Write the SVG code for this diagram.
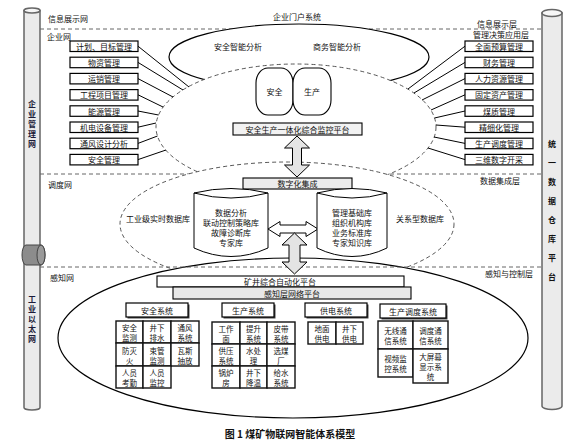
<svg xmlns="http://www.w3.org/2000/svg" width="575" height="442" viewBox="0 0 575 442">
<defs>
<style>
.t{font-family:"Noto Sans CJK SC","Noto Sans",sans-serif;font-size:8px;fill:#111;text-anchor:middle;dominant-baseline:central}
.c{font-size:7.5px}
.tl{font-family:"Noto Sans CJK SC","Noto Sans",sans-serif;font-size:8px;fill:#111;text-anchor:start;dominant-baseline:central}
.box{fill:#fff;stroke:#000;stroke-width:1.2}
.sh{fill:#444}
.dash{fill:none;stroke:#555;stroke-width:0.9;stroke-dasharray:4 3}
.dell{fill:#fff;stroke:#444;stroke-width:0.9;stroke-dasharray:4 3}
.cell{fill:#fff;stroke:#111;stroke-width:1.4}
.ln{stroke:#000;stroke-width:1;fill:none}
.pipe{fill:#ebebeb;stroke:#666;stroke-width:1.5}
.arr{stroke:#000;stroke-width:1}
</style>
</defs>
<rect width="575" height="442" fill="#fff"/>

<g id="layer-lines">
<line class="dash" x1="40" y1="29" x2="542" y2="29"/>
<line class="dash" x1="40" y1="174" x2="542" y2="174"/>
</g>

<g id="portal">
<ellipse cx="299" cy="57" rx="130" ry="33" fill="#fff" stroke="#000" stroke-width="1.2"/>
<text class="t" x="297" y="16">企业门户系统</text>
<text class="t" x="238" y="46">安全智能分析</text>
<text class="t" x="337" y="46">商务智能分析</text>
</g>

<g id="enterprise-ellipse">
<ellipse class="dell" cx="296" cy="127" rx="140" ry="63"/>
</g>

<g id="dispatch-ellipse">
<ellipse class="dell" cx="287" cy="224" rx="167" ry="62"/>
<text class="t" x="158" y="218">工业级实时数据库</text>
<text class="t" x="420" y="218">关系型数据库</text>
</g>

<g id="sensing-ellipse">
<ellipse cx="293" cy="338" rx="235" ry="80" fill="#fff" stroke="#000" stroke-width="1.2"/>
</g>

<g id="layer-line-3">
<line class="dash" x1="40" y1="267" x2="542" y2="267"/>
</g>

<g id="left-pipe">
<path class="pipe" d="M24,10.5 L24,407.5 A8,2.5 0 0 0 40,407.5 L40,10.5 Z"/>
<ellipse cx="32" cy="10.5" rx="8" ry="2.5" fill="#f6f6f6" stroke="#666" stroke-width="1.5"/>
<path d="M26,245 L41,245 A4,10 0 0 1 41,265 L26,265 A4,10 0 0 1 26,245 Z" fill="#8c8c8c" stroke="#444" stroke-width="1"/>
<ellipse cx="41" cy="255" rx="4" ry="10" fill="#9a9a9a" stroke="#444" stroke-width="1"/>
<text class="t" style="font-weight:bold;fill:#1c1c3a"><tspan x="32" y="103">企</tspan><tspan x="32" y="113">业</tspan><tspan x="32" y="123">管</tspan><tspan x="32" y="133">理</tspan><tspan x="32" y="143">网</tspan></text>
<text class="t" style="font-weight:bold;fill:#1c1c3a"><tspan x="32" y="298">工</tspan><tspan x="32" y="308">业</tspan><tspan x="32" y="318">以</tspan><tspan x="32" y="328">太</tspan><tspan x="32" y="338">网</tspan></text>
</g>
<g id="right-pipe">
<path class="pipe" d="M542,13 L542,406 A10,3.5 0 0 0 562,406 L562,13 Z"/>
<ellipse cx="552" cy="13" rx="10" ry="3.5" fill="#f6f6f6" stroke="#666" stroke-width="1.5"/>
<text class="t" style="font-weight:bold"><tspan x="552" y="143">统</tspan><tspan x="552" y="162">一</tspan><tspan x="552" y="181">数</tspan><tspan x="552" y="200">据</tspan><tspan x="552" y="219">仓</tspan><tspan x="552" y="238">库</tspan><tspan x="552" y="257">平</tspan><tspan x="552" y="276">台</tspan></text>
</g>

<g id="layer-labels">
<text class="tl" x="48" y="18">信息展示网</text>
<text class="tl" x="47" y="36">企业网</text>
<text class="tl" x="48" y="184">调度网</text>
<text class="tl" x="50" y="277">感知网</text>
<text class="t" x="497" y="23">信息展示层</text>
<text class="t" x="501" y="34">管理决策应用层</text>
<text class="t" x="500" y="180">数据集成层</text>
<text class="t" x="509" y="273">感知与控制层</text>
</g>

<g id="connectors">
<line class="ln" x1="138" y1="46.2" x2="189" y2="87"/>
<line class="ln" x1="138" y1="62.4" x2="183" y2="90"/>
<line class="ln" x1="138" y1="78.6" x2="173" y2="97"/>
<line class="ln" x1="138" y1="94.8" x2="163" y2="107"/>
<line class="ln" x1="138" y1="111" x2="158.5" y2="115"/>
<line class="ln" x1="138" y1="127.2" x2="156" y2="123"/>
<line class="ln" x1="138" y1="143.4" x2="157.5" y2="136"/>
<line class="ln" x1="138" y1="159.6" x2="166" y2="150"/>
<line class="ln" x1="465" y1="46.2" x2="408" y2="89"/>
<line class="ln" x1="465" y1="62.4" x2="414" y2="93"/>
<line class="ln" x1="465" y1="78.6" x2="422" y2="100"/>
<line class="ln" x1="465" y1="94.8" x2="431" y2="110"/>
<line class="ln" x1="465" y1="111" x2="434.5" y2="118"/>
<line class="ln" x1="465" y1="127.2" x2="436" y2="125"/>
<line class="ln" x1="465" y1="143.4" x2="434" y2="137"/>
<line class="ln" x1="465" y1="159.6" x2="428" y2="148"/>
<polygon class="arr" fill="#e4e4e4" points="297,136 309.5,148 301.5,148 301.5,165 309.5,165 297,177 284.5,165 292.5,165 292.5,148 284.5,148"/>
<polygon class="arr" fill="#fff" points="268,229 280,221.5 280,225 306,225 306,221.5 318,229 306,236.5 306,233 280,233 280,236.5"/>
<polygon class="arr" fill="#e4e4e4" points="294.5,233 307,245 300,245 300,262 307,262 294.5,274 282,262 289,262 289,245 282,245"/>
</g>

<g id="left-boxes">
<g id="n-jihua"><rect class="box" x="70" y="41" width="68" height="10.5"/><text class="t" x="104" y="46.2">计划、目标管理</text></g>
<g id="n-wuzi"><rect class="box" x="70" y="57.2" width="68" height="10.5"/><text class="t" x="104" y="62.4">物资管理</text></g>
<g id="n-yunxiao"><rect class="box" x="70" y="73.4" width="68" height="10.5"/><text class="t" x="104" y="78.6">运销管理</text></g>
<g id="n-gongcheng"><rect class="box" x="70" y="89.6" width="68" height="10.5"/><text class="t" x="104" y="94.8">工程项目管理</text></g>
<g id="n-nengyuan"><rect class="box" x="70" y="105.8" width="68" height="10.5"/><text class="t" x="104" y="111">能源管理</text></g>
<g id="n-jidian"><rect class="box" x="70" y="122" width="68" height="10.5"/><text class="t" x="104" y="127.2">机电设备管理</text></g>
<g id="n-tongfeng"><rect class="box" x="70" y="138.2" width="68" height="10.5"/><text class="t" x="104" y="143.4">通风设计分析</text></g>
<g id="n-anquan"><rect class="box" x="70" y="154.4" width="68" height="10.5"/><text class="t" x="104" y="159.6">安全管理</text></g>
</g>

<g id="right-boxes">
<g id="n-yusuan"><rect class="box" x="465" y="41" width="68" height="10.5"/><text class="t" x="499" y="46.2">全面预算管理</text></g>
<g id="n-caiwu"><rect class="box" x="465" y="57.2" width="68" height="10.5"/><text class="t" x="499" y="62.4">财务管理</text></g>
<g id="n-renli"><rect class="box" x="465" y="73.4" width="68" height="10.5"/><text class="t" x="499" y="78.6">人力资源管理</text></g>
<g id="n-guding"><rect class="box" x="465" y="89.6" width="68" height="10.5"/><text class="t" x="499" y="94.8">固定资产管理</text></g>
<g id="n-meizhi"><rect class="box" x="465" y="105.8" width="68" height="10.5"/><text class="t" x="499" y="111">煤质管理</text></g>
<g id="n-jingxi"><rect class="box" x="465" y="122" width="68" height="10.5"/><text class="t" x="499" y="127.2">精细化管理</text></g>
<g id="n-diaodu"><rect class="box" x="465" y="138.2" width="68" height="10.5"/><text class="t" x="499" y="143.4">生产调度管理</text></g>
<g id="n-sanwei"><rect class="box" x="465" y="154.4" width="68" height="10.5"/><text class="t" x="499" y="159.6">三维数字开采</text></g>
</g>

<g id="n-safe"><rect x="256" y="68" width="37" height="47" rx="12" ry="15" fill="#fff" stroke="#000" stroke-width="1.1"/><text class="t" x="274.5" y="91">安全</text></g>
<g id="n-prod"><rect x="293" y="68" width="38" height="47" rx="12" ry="15" fill="#fff" stroke="#000" stroke-width="1.1"/><text class="t" x="312" y="91">生产</text></g>

<g id="n-platform"><rect x="233" y="123" width="129" height="12" fill="#f2f2f2" stroke="#000" stroke-width="1.1"/><text class="t" x="297.5" y="129">安全生产一体化综合监控平台</text></g>

<g id="n-digital"><rect x="243" y="178" width="109" height="11" fill="#ececec" stroke="#000" stroke-width="1.1"/><text class="t" x="297.5" y="183.5">数字化集成</text></g>

<g id="n-db-left">
<path d="M194,193 Q231,184 268,193 L268,248 Q231,265 194,248 Z" fill="#fff" stroke="#000" stroke-width="1"/>
<path d="M194,193 Q231,203 268,193" fill="none" stroke="#000" stroke-width="1"/>
<text class="t"><tspan x="231" y="212">数据分析</tspan><tspan x="231" y="222">联动控制策略库</tspan><tspan x="231" y="232">故障诊断库</tspan><tspan x="231" y="242">专家库</tspan></text>
</g>
<g id="n-db-right">
<path d="M317,193 Q352,184 387,193 L387,248 Q352,265 317,248 Z" fill="#fff" stroke="#000" stroke-width="1"/>
<path d="M317,193 Q352,203 387,193" fill="none" stroke="#000" stroke-width="1"/>
<text class="t"><tspan x="352" y="212">管理基础库</tspan><tspan x="352" y="222">组织机构库</tspan><tspan x="352" y="232">业务标准库</tspan><tspan x="352" y="242">专家知识库</tspan></text>
</g>

<g id="n-mine-auto"><rect x="157" y="276" width="247" height="11" fill="#fff" stroke="#000" stroke-width="1.1"/><text class="t" x="280" y="281.5">矿井综合自动化平台</text></g>
<g id="n-sense-net"><rect x="173" y="287" width="238" height="12" fill="#e8e8e8" stroke="#000" stroke-width="1.1"/><text class="t" x="292" y="293">感知层网络平台</text></g>

<g id="n-h-safety"><rect class="sh" x="127.5" y="304.5" width="62" height="14"/><rect class="box" x="126" y="303" width="62" height="14"/><text class="t" x="157" y="310">安全系统</text></g>
<g id="n-h-prod"><rect class="sh" x="223.5" y="304.5" width="52" height="14"/><rect class="box" x="222" y="303" width="52" height="14"/><text class="t" x="248" y="310">生产系统</text></g>
<g id="n-h-power"><rect class="sh" x="306.5" y="304.5" width="62" height="14"/><rect class="box" x="305" y="303" width="62" height="14"/><text class="t" x="336" y="310">供电系统</text></g>
<g id="n-h-disp"><rect class="sh" x="381.5" y="305.5" width="66" height="14"/><rect class="box" x="380" y="304" width="66" height="14"/><text class="t" x="413" y="311">生产调度系统</text></g>

<g id="g-safety">
<rect class="cell" x="116" y="321" width="27" height="22"/><text class="t c"><tspan x="129.5" y="327">安全</tspan><tspan x="129.5" y="337">监测</tspan></text>
<rect class="cell" x="143" y="321" width="28" height="22"/><text class="t c"><tspan x="157" y="327">井下</tspan><tspan x="157" y="337">排水</tspan></text>
<rect class="cell" x="171" y="321" width="28" height="22"/><text class="t c"><tspan x="185" y="327">通风</tspan><tspan x="185" y="337">系统</tspan></text>
<rect class="cell" x="116" y="343" width="27" height="23"/><text class="t c"><tspan x="129.5" y="349.5">防灭</tspan><tspan x="129.5" y="359.5">火</tspan></text>
<rect class="cell" x="143" y="343" width="28" height="23"/><text class="t c"><tspan x="157" y="349.5">束管</tspan><tspan x="157" y="359.5">监测</tspan></text>
<rect class="cell" x="171" y="343" width="28" height="23"/><text class="t c"><tspan x="185" y="349.5">瓦斯</tspan><tspan x="185" y="359.5">抽放</tspan></text>
<rect class="cell" x="116" y="366" width="27" height="22"/><text class="t c"><tspan x="129.5" y="372">人员</tspan><tspan x="129.5" y="382">考勤</tspan></text>
<rect class="cell" x="143" y="366" width="28" height="22"/><text class="t c"><tspan x="157" y="372">人员</tspan><tspan x="157" y="382">监控</tspan></text>
</g>

<g id="g-prod">
<rect class="cell" x="212" y="322" width="28" height="22"/><text class="t c"><tspan x="226" y="328">工作</tspan><tspan x="226" y="338">面</tspan></text>
<rect class="cell" x="240" y="322" width="27" height="22"/><text class="t c"><tspan x="253.5" y="328">提升</tspan><tspan x="253.5" y="338">系统</tspan></text>
<rect class="cell" x="267" y="322" width="28" height="22"/><text class="t c"><tspan x="281" y="328">皮带</tspan><tspan x="281" y="338">系统</tspan></text>
<rect class="cell" x="212" y="344" width="28" height="22"/><text class="t c"><tspan x="226" y="350">供压</tspan><tspan x="226" y="360">系统</tspan></text>
<rect class="cell" x="240" y="344" width="27" height="22"/><text class="t c"><tspan x="253.5" y="350">水处</tspan><tspan x="253.5" y="360">理</tspan></text>
<rect class="cell" x="267" y="344" width="28" height="22"/><text class="t c"><tspan x="281" y="350">选煤</tspan><tspan x="281" y="360">厂</tspan></text>
<rect class="cell" x="212" y="366" width="28" height="22"/><text class="t c"><tspan x="226" y="372">锅炉</tspan><tspan x="226" y="382">房</tspan></text>
<rect class="cell" x="240" y="366" width="27" height="22"/><text class="t c"><tspan x="253.5" y="372">井下</tspan><tspan x="253.5" y="382">降温</tspan></text>
<rect class="cell" x="267" y="366" width="28" height="22"/><text class="t c"><tspan x="281" y="372">给水</tspan><tspan x="281" y="382">系统</tspan></text>
</g>

<g id="g-power">
<rect class="cell" x="308" y="322" width="28" height="22"/><text class="t c"><tspan x="322" y="328">地面</tspan><tspan x="322" y="338">供电</tspan></text>
<rect class="cell" x="336" y="322" width="27" height="22"/><text class="t c"><tspan x="349.5" y="328">井下</tspan><tspan x="349.5" y="338">供电</tspan></text>
</g>

<g id="g-disp">
<rect class="cell" x="378" y="321" width="35" height="28"/><text class="t c"><tspan x="395.5" y="330">无线通</tspan><tspan x="395.5" y="340">信系统</tspan></text>
<rect class="cell" x="413" y="321" width="35" height="28"/><text class="t c"><tspan x="430.5" y="330">调度通</tspan><tspan x="430.5" y="340">信系统</tspan></text>
<rect class="cell" x="378" y="349" width="35" height="28"/><text class="t c"><tspan x="395.5" y="358">视频监</tspan><tspan x="395.5" y="368">控系统</tspan></text>
<rect class="cell" x="413" y="349" width="35" height="34"/><text class="t c"><tspan x="430.5" y="356">大屏幕</tspan><tspan x="430.5" y="366">显示系</tspan><tspan x="430.5" y="376">统</tspan></text>
</g>

<text class="t" x="290" y="433" style="font-size:10px;font-weight:bold">图 1  煤矿物联网智能体系模型</text>
</svg>
